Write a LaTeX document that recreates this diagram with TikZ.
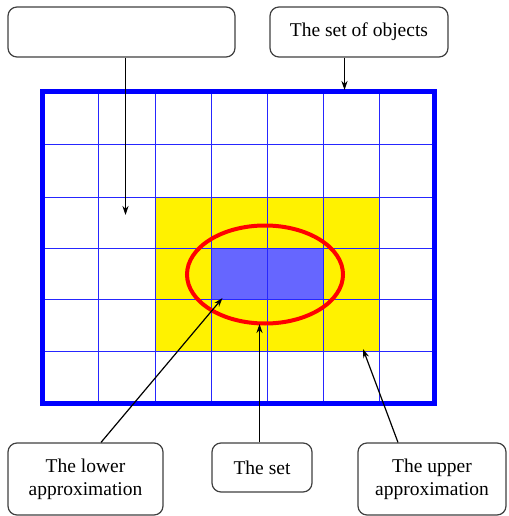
\documentclass[tikz,border=0pt]{standalone}
\usepackage{fontspec}
\setmainfont{Liberation Serif}
\usetikzlibrary{arrows.meta}
\definecolor{setblue}{HTML}{6666FF}
\tikzset{
  label box/.style={draw=black!75, line width=1.2pt, rounded corners=9pt, fill=white, inner sep=0pt, font=\fontsize{19.5}{23}\selectfont, align=center},
  pointer/.style={draw=black, line width=1.2pt, -{Stealth[length=9pt,width=6pt]}},
  gridline/.style={draw=blue!85, line width=0.9pt},
}
\begin{document}
\begin{tikzpicture}[x=1pt,y=-1pt]
\useasboundingbox (0,0) rectangle (508,516);
% yellow upper approximation
\fill[yellow] (155,197) rectangle (379,351);
% lower approximation
\fill[setblue] (211,248) rectangle (323,299);
% grid
\foreach \x in {98.5,155,211,267,323,379} \draw[gridline] (\x,91.5) -- (\x,403.5);
\foreach \y in {144,197,248,299,351} \draw[gridline] (42.5,\y) -- (434.5,\y);
% set of objects frame
\draw[blue, line width=5pt] (42.5,91.5) rectangle (434.5,403.5);
% the set (ellipse)
\draw[red, line width=4pt] (265,274.5) ellipse [x radius=78, y radius=49];
% targets
\coordinate (t1) at (125.5,215);
\coordinate (t2) at (344.5,90);
\coordinate (tl) at (222.5,298);
\coordinate (ts) at (259.5,324);
\coordinate (tu) at (363,349);
% boxes
\node[label box, minimum width=227pt, minimum height=50pt] (b1) at (121.5,32) {};
\node[label box, minimum width=178pt, minimum height=50pt] (b2) at (359,32) {The set of objects};
\node[label box, minimum width=155pt, minimum height=72pt] (bl) at (85.5,479) {The lower\\approximation};
\node[label box, minimum width=100pt, minimum height=49pt] (bs) at (262,467.5) {The set};
\node[label box, minimum width=148pt, minimum height=72pt] (bu) at (432,479) {The upper\\approximation};
% connectors
\draw[pointer] (b1.south -| t1) -- (t1);
\draw[pointer] (b2.south -| t2) -- (t2);
\draw[pointer] (bl.north -| 101,0) -- (tl);
\draw[pointer] (bs.north -| ts) -- (ts);
\draw[pointer] (bu.north -| 398,0) -- (tu);
\end{tikzpicture}
\end{document}
